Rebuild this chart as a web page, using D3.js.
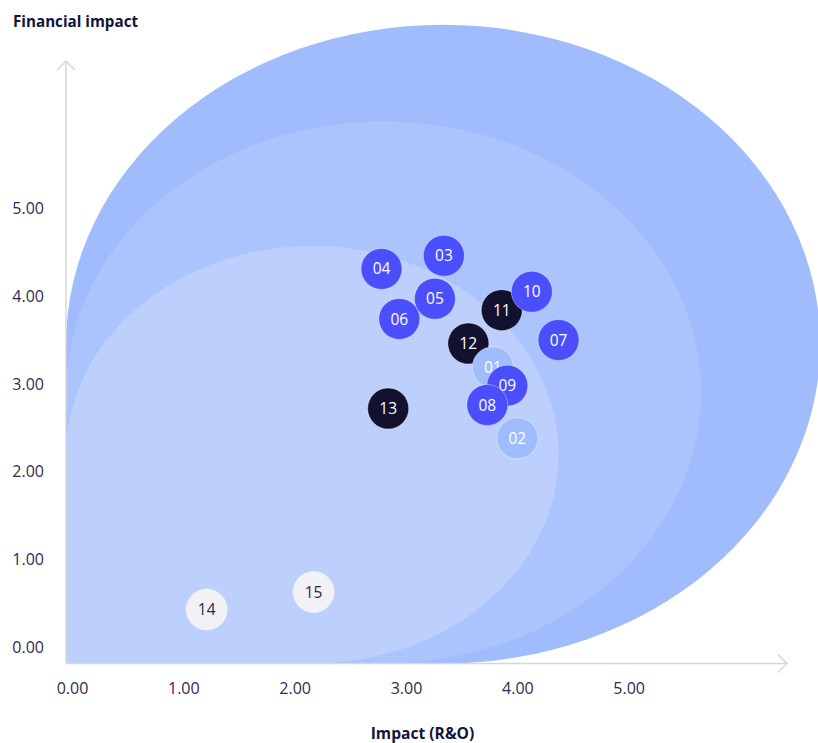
<!DOCTYPE html>
<html>
<head>
<meta charset="utf-8">
<script src="https://cdn.jsdelivr.net/npm/d3@7"></script>
<style>
  html, body { margin: 0; padding: 0; background: #ffffff; }
  svg { display: block; font-family: "Open Sans", sans-serif; }
</style>
</head>
<body>
<div id="chart"></div>
<script>
// risk ids, in drawing order (later ones sit on top)
const ids      = ["03", "04", "06", "05", "11", "10", "07", "12", "01", "02", "09", "08", "13", "14", "15"];
const impactRO = [3.34, 2.78, 2.94, 3.26, 3.86, 4.13, 4.37, 3.56, 3.78, 4.00, 3.91, 3.73, 2.84, 1.21, 2.17];
const financial = [4.46, 4.31, 3.74, 3.97, 3.84, 4.05, 3.50, 3.46, 3.19, 2.38, 2.98, 2.76, 2.72, 0.43, 0.63];
const levels   = ["high", "high", "high", "high", "critical", "high", "high", "critical", "medium", "medium", "high", "high", "critical", "low", "low"];
const tickValues = [0, 1, 2, 3, 4, 5];

// background zones (outer to inner): right and top reach, in axis units
const zoneRight = [6.72, 5.65, 4.37];
const zoneTop   = [7.09, 5.99, 4.57];

const width = 818, height = 743;
const axisLeft = 66, axisBottom = 663.5;

const fills = { critical: "#12122e", high: "#4b4ffb", medium: "#a0bcfc", low: "#f1f1f6" };
const textColor = { critical: "#ffffff", high: "#ffffff", medium: "#ffffff", low: "#2a2a48" };
const zoneFills = ["#a0bcfc", "#abc4fd", "#bdd0fd"];

const x = d3.scaleLinear().domain([0, 5]).range([72, 628.7]);
const y = d3.scaleLinear().domain([0, 5]).range([647.3, 208.3]);

const svg = d3.select("#chart").append("svg")
  .attr("width", width)
  .attr("height", height);

// zone shape: ellipse touching both axes, with the corner at the origin filled square
function zonePath(right, top) {
  let rx = (right - axisLeft) / 2, ry = (axisBottom - top) / 2;
  let cx = axisLeft + rx, cy = top + ry;
  return `M${axisLeft},${cy}` +
    ` A${rx},${ry} 0 0 1 ${cx},${top}` +
    ` A${rx},${ry} 0 0 1 ${right},${cy}` +
    ` A${rx},${ry} 0 0 1 ${cx},${axisBottom}` +
    ` L${axisLeft},${axisBottom} Z`;
}

svg.append("g")
  .selectAll("path")
  .data(zoneRight)
  .enter()
  .append("path")
  .attr("d", (d, i) => zonePath(x(d), y(zoneTop[i])))
  .attr("fill", (d, i) => zoneFills[i]);

// axes lines with arrows
const axisColor = "#d6d6de";
svg.append("line")
  .attr("x1", axisLeft).attr("y1", axisBottom)
  .attr("x2", axisLeft).attr("y2", 61)
  .attr("stroke", axisColor).attr("stroke-width", 1.5);
svg.append("path")
  .attr("d", `M${axisLeft - 9},70 L${axisLeft},61 L${axisLeft + 9},70`)
  .attr("fill", "none").attr("stroke", axisColor).attr("stroke-width", 1.5);
svg.append("line")
  .attr("x1", axisLeft).attr("y1", axisBottom)
  .attr("x2", 787).attr("y2", axisBottom)
  .attr("stroke", axisColor).attr("stroke-width", 1.5);
svg.append("path")
  .attr("d", `M778,${axisBottom - 9} L787,${axisBottom} L778,${axisBottom + 9}`)
  .attr("fill", "none").attr("stroke", axisColor).attr("stroke-width", 1.5);

// tick labels
const fmt = d3.format(".2f");
const gx = svg.append("g")
  .attr("transform", "translate(0,683)")
  .call(d3.axisBottom(x).tickValues(tickValues).tickFormat(fmt).tickSize(0).tickPadding(0));
gx.select(".domain").remove();
gx.selectAll("text")
  .attr("dy", "0.71em")
  .style("font-family", "'Open Sans', sans-serif")
  .style("font-size", "16px")
  .attr("fill", "#2e2c4c");

const gy = svg.append("g")
  .attr("transform", "translate(44,0)")
  .call(d3.axisLeft(y).tickValues(tickValues).tickFormat(fmt).tickSize(0).tickPadding(0));
gy.select(".domain").remove();
gy.selectAll("text")
  .style("font-family", "'Open Sans', sans-serif")
  .style("font-size", "16px")
  .attr("fill", "#2e2c4c");

// bubbles
const bubbles = svg.append("g").selectAll("g")
  .data(ids)
  .enter()
  .append("g")
  .attr("transform", (d, i) => `translate(${x(impactRO[i])},${y(financial[i])})`);

bubbles.append("circle")
  .attr("r", 20.5)
  .attr("fill", (d, i) => fills[levels[i]])
  .attr("stroke", "rgba(255,255,255,0.35)")
  .attr("stroke-width", 1);

bubbles.append("text")
  .attr("text-anchor", "middle")
  .attr("dy", "0.36em")
  .style("font-size", "15.5px")
  .attr("fill", (d, i) => textColor[levels[i]])
  .text(d => d);

// titles
svg.append("text")
  .attr("x", 13).attr("y", 27)
  .style("font-size", "15.2px")
  .style("font-weight", "700")
  .attr("fill", "#14143a")
  .text("Financial impact");

svg.append("text")
  .attr("x", 422.5).attr("y", 738.5)
  .attr("text-anchor", "middle")
  .style("font-size", "15.6px")
  .style("font-weight", "700")
  .attr("fill", "#14143a")
  .text("Impact (R&O)");
</script>
</body>
</html>
